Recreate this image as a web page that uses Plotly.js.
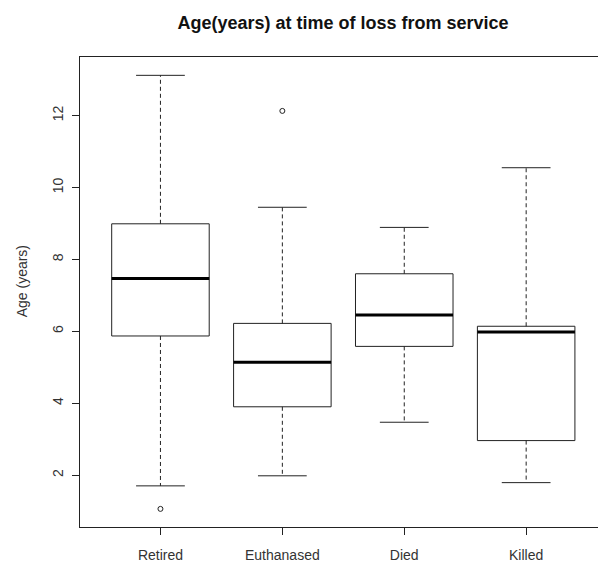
<!DOCTYPE html>
<html>
<head>
<meta charset="utf-8">
<script src="https://cdn.plot.ly/plotly-3.0.1.min.js"></script>
<style>html,body{margin:0;padding:0;background:#fff;overflow:hidden;}#chart{width:606px;height:562px;}</style>
</head>
<body>
<div id="chart"></div>
<script>
// Data
const categories = ["Retired", "Euthanased", "Died", "Killed"];
const lowerWhisker = [1.70, 1.98, 3.47, 1.79];
const q1 = [5.87, 3.90, 5.58, 2.96];
const median = [7.47, 5.14, 6.45, 5.98];
const q3 = [8.99, 6.22, 7.60, 6.14];
const upperWhisker = [13.12, 9.45, 8.89, 10.55];
const outlierCategory = ["Retired", "Euthanased"];
const outlierValue = [1.06, 12.13];
const yTicks = [2, 4, 6, 8, 10, 12];

const INK = "#222222";
const FONT = "'Liberation Sans', Arial, sans-serif";
const halfBox = 0.4, halfCap = 0.2;

const traces = [];
categories.forEach((c, i) => {
  const x = i + 1;
  // box outline
  traces.push({type: "scatter", mode: "lines", hoverinfo: "skip", showlegend: false,
    x: [x - halfBox, x + halfBox, x + halfBox, x - halfBox, x - halfBox],
    y: [q1[i], q1[i], q3[i], q3[i], q1[i]],
    line: {color: INK, width: 1}});
  // median
  traces.push({type: "scatter", mode: "lines", hoverinfo: "skip", showlegend: false,
    x: [x - halfBox, x + halfBox], y: [median[i], median[i]],
    line: {color: "#000", width: 3}});
  // whiskers (dashed)
  traces.push({type: "scatter", mode: "lines", hoverinfo: "skip", showlegend: false,
    x: [x, x, null, x, x], y: [q3[i], upperWhisker[i], null, q1[i], lowerWhisker[i]],
    line: {color: INK, width: 1, dash: "4px,3px"}});
  // caps
  traces.push({type: "scatter", mode: "lines", hoverinfo: "skip", showlegend: false,
    x: [x - halfCap, x + halfCap, null, x - halfCap, x + halfCap],
    y: [upperWhisker[i], upperWhisker[i], null, lowerWhisker[i], lowerWhisker[i]],
    line: {color: INK, width: 1}});
});
// outliers
traces.push({type: "scatter", mode: "markers", showlegend: false,
  x: outlierCategory.map(c => categories.indexOf(c) + 1), y: outlierValue,
  marker: {symbol: "circle-open", size: 5, color: INK, line: {width: 1, color: INK}}});

const layout = {
  width: 606, height: 562,
  margin: {l: 80, r: 0, t: 57, b: 35, pad: 0},
  paper_bgcolor: "#fff", plot_bgcolor: "#fff",
  font: {family: FONT, color: INK, size: 14},
  title: {text: "Age(years) at time of loss from service", xref: "paper", x: 0.5, xanchor: "center",
          yref: "container", y: 0.96, yanchor: "middle",
          font: {family: FONT, size: 18, weight: "bold", color: "#111"}},
  xaxis: {range: [0.34, 4.655], tickvals: categories.map((c, i) => i + 1), ticktext: categories,
          showgrid: false, zeroline: false, showline: true, mirror: true, linecolor: INK, linewidth: 1,
          ticks: "outside", ticklen: 7, tickcolor: INK, tickwidth: 1, ticklabelstandoff: 8,
          tickfont: {size: 14, color: "#333"}},
  yaxis: {range: [0.556, 13.63], tickvals: yTicks, ticktext: yTicks.map(String), tickangle: -90,
          showgrid: false, zeroline: false, showline: true, mirror: true, linecolor: INK, linewidth: 1,
          ticks: "outside", ticklen: 7, tickcolor: INK, tickwidth: 1, ticklabelstandoff: 3,
          tickfont: {size: 14, color: "#333"}},
  annotations: [{text: "Age (years)", xref: "paper", yref: "paper", x: -0.11, y: 0.523,
                 xanchor: "center", yanchor: "middle", textangle: -90, showarrow: false,
                 font: {family: FONT, size: 14, color: "#333"}}]
};

Plotly.newPlot("chart", traces, layout, {displayModeBar: false, staticPlot: true});
</script>
</body>
</html>
